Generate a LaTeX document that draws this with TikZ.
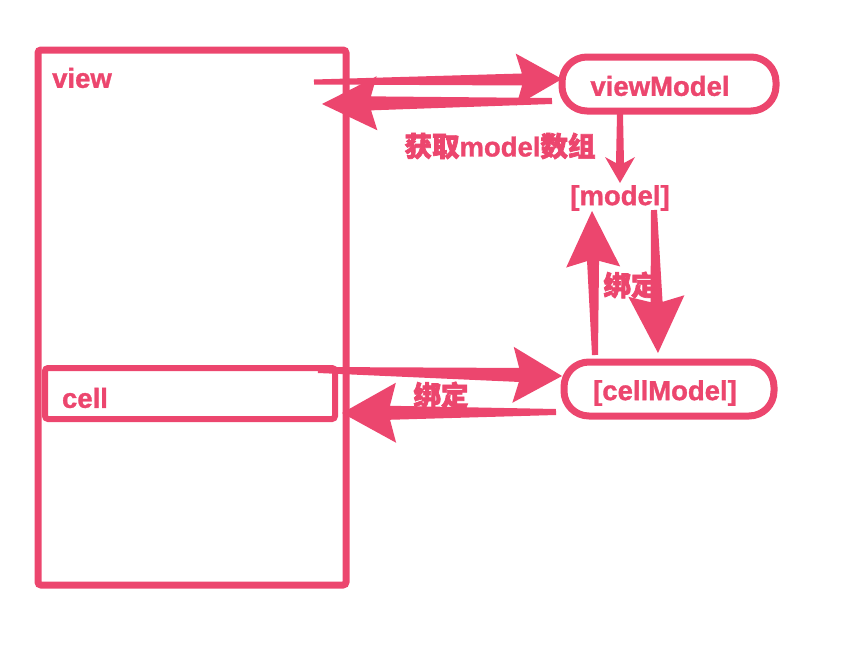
\documentclass[tikz,border=0pt]{standalone}
\usepackage{fontspec}
\setmainfont{Liberation Sans}[BoldFeatures={FakeBold=1.2}]
\newfontfamily\cjk{Noto Sans CJK SC}[FakeBold=2.5]
\usetikzlibrary{calc}
\definecolor{pk}{RGB}{236,70,110}
% tail, tip, tail half width, shaft half width at head, head length, head half width
\newcommand\karrow[6]{%
  \coordinate (kh) at ($(#2)!#5!(#1)$);
  \coordinate (kj) at ($(#2)!#5-6pt!(#1)$);
  \fill[pk] ($(#1)!#3!90:(#2)$) -- ($(kj)!#4!90:(#2)$) -- ($(kh)!#6!90:(#2)$) -- (#2)
    -- ($(kh)!#6!-90:(#2)$) -- ($(kj)!#4!-90:(#2)$) -- ($(#1)!#3!-90:(#2)$) -- cycle;
}
\tikzset{
  lbl/.style={text=pk, font=\fontsize{27.5}{30}\selectfont\bfseries, inner sep=0pt},
  frame/.style={draw=pk, line width=7pt, rounded corners=3pt},
  pill/.style={draw=pk, line width=7pt, rounded corners=25pt, fill=white}
}
\begin{document}
\begin{tikzpicture}[x=1pt,y=-1pt]
\useasboundingbox (0,0) rectangle (852,651);
% frames
\draw[frame] (38,50) rectangle (346,585);
\draw[frame, line width=6pt] (45,368) rectangle (335,419);
\node[lbl] (view) at (82,78) {view};
\node[lbl] (cell) at (85,398) {cell};
% viewModel and cellModel
\draw[pill] (562,57) rectangle (776,111);
\node[lbl] (vm) at (660,86) {viewModel};
\draw[pill] (564,362) rectangle (774,416);
\node[lbl] (cm) at (665,393) {[cellModel]};
\node[lbl] (model) at (620,198) {[model]};
% labels
\node[lbl] (get) at (500,146) {{\cjk 获取}model{\cjk 数组}};
\node[lbl] (bind1) at (631,285) {\cjk 绑定};
\node[lbl] (bind2) at (441,395) {\cjk 绑定};
% arrow end points
\coordinate (a1s) at (314,82);  \coordinate (a1e) at (562,79);
\coordinate (a2s) at (552,101); \coordinate (a2e) at (322,104);
\coordinate (a3s) at (620,114); \coordinate (a3e) at (620,183);
\coordinate (a4s) at (595,355); \coordinate (a4e) at (592,211);
\coordinate (a5s) at (654,210); \coordinate (a5e) at (658,353);
\coordinate (a6s) at (318,370); \coordinate (a6e) at (562,376);
\coordinate (a7s) at (556,412); \coordinate (a7e) at (342,413);
\karrow{a1s}{a1e}{2.5pt}{6pt}{46pt}{26pt}
\karrow{a2s}{a2e}{3pt}{7pt}{55pt}{27pt}
\karrow{a3s}{a3e}{3pt}{4pt}{26pt}{15pt}
\karrow{a4s}{a4e}{3pt}{6pt}{56pt}{27pt}
\karrow{a5s}{a5e}{3pt}{6pt}{57pt}{28pt}
\karrow{a6s}{a6e}{3pt}{7pt}{49pt}{28pt}
\karrow{a7s}{a7e}{3pt}{7pt}{54pt}{30pt}
\end{tikzpicture}
\end{document}
